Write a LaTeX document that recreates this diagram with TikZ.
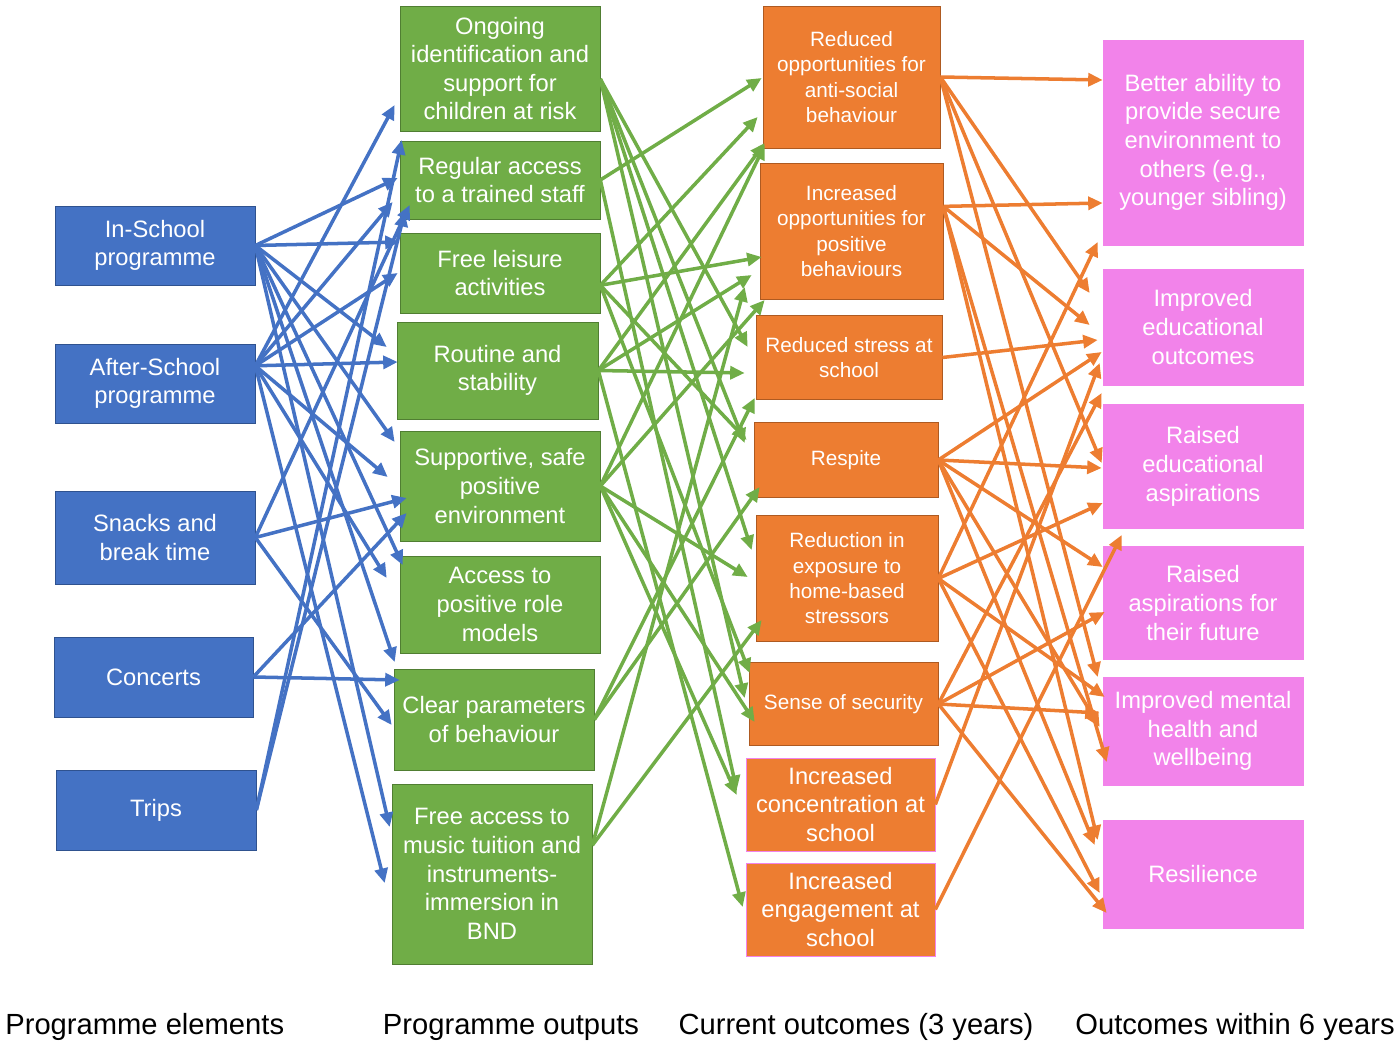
\documentclass[tikz,border=0pt]{standalone}
\usepackage{fontspec}
\setmainfont{Liberation Sans}
\usepackage{tikz}
\usepackage{xcolor}
\usetikzlibrary{arrows.meta,calc}
\definecolor{ElemBlue}{HTML}{4472C4}
\definecolor{ElemEdge}{HTML}{2F528F}
\definecolor{OutGreen}{HTML}{70AD47}
\definecolor{OutEdge}{HTML}{507E32}
\definecolor{CurOrange}{HTML}{ED7D31}
\definecolor{CurEdge}{HTML}{AE5A21}
\definecolor{FutPink}{HTML}{F283EA}

\begin{document}
\begin{tikzpicture}[
  x=0.02cm,y=-0.02cm,
  elem/.style={draw=ElemEdge,fill=ElemBlue,text=white,minimum width=4cm,inner sep=0pt,align=center,font=\fontsize{13.5}{16.3}\selectfont},
  outp/.style={draw=OutEdge,fill=OutGreen,text=white,minimum width=4cm,inner sep=0pt,align=center,font=\fontsize{13.5}{16.3}\selectfont},
  curr/.style={draw=CurEdge,fill=CurOrange,text=white,inner sep=0pt,align=center,font=\fontsize{11.8}{14.4}\selectfont},
  fut/.style={draw=FutPink,fill=FutPink,text=white,minimum width=4cm,inner sep=0pt,align=center,font=\fontsize{13.5}{16.3}\selectfont},
  lbl/.style={inner sep=0pt,font=\fontsize{16.6}{20}\selectfont},
  barrow/.style={-{Triangle[length=2.9mm,width=2.6mm]},line width=2pt,draw=ElemBlue},
  garrow/.style={-{Triangle[length=2.9mm,width=2.6mm]},line width=2pt,draw=OutGreen},
  oarrow/.style={-{Triangle[length=2.9mm,width=2.6mm]},line width=2pt,draw=CurOrange}
]
\useasboundingbox (0,0) rectangle (1399,1044);
% programme elements
\node[elem,minimum height=1.58cm] (IS) at (155,245.5) {In-School\\programme};
\node[elem,minimum height=1.58cm] (AS) at (155,383.5) {After-School\\programme};
\node[elem,minimum height=1.86cm] (SN) at (155,537.5) {Snacks and\\break time};
\node[elem,minimum height=1.6cm,minimum width=3.98cm] (CO) at (153.5,677) {Concerts};
\node[elem,minimum height=1.6cm] (TR) at (156,810) {Trips};
% programme outputs
\node[outp,minimum height=2.5cm] (O1) at (500,68.5) {Ongoing\\identification and\\support for\\children at risk};
\node[outp,minimum height=1.56cm] (O2) at (500,180) {Regular access\\to a trained staff};
\node[outp,minimum height=1.6cm] (O3) at (500,273) {Free leisure\\activities};
\node[outp,minimum height=1.94cm,minimum width=4.02cm] (O4) at (497.5,370.5) {Routine and\\stability};
\node[outp,minimum height=2.2cm] (O5) at (500,486) {Supportive, safe\\positive\\environment};
\node[outp,minimum height=1.94cm] (O6) at (500,604.5) {Access to\\positive role\\models};
\node[outp,minimum height=2.02cm] (O7) at (494,719.5) {Clear parameters\\of behaviour};
\node[outp,minimum height=3.6cm] (O8) at (492,874) {Free access to\\music tuition and\\instruments-\\immersion in\\BND};
% current outcomes
\node[curr,minimum width=3.54cm,minimum height=2.84cm] (C1) at (851.5,77) {Reduced\\opportunities for\\anti-social\\behaviour};
\node[curr,minimum width=3.66cm,minimum height=2.72cm] (C2) at (851.5,231) {Increased\\opportunities for\\positive\\behaviours};
\node[curr,minimum width=3.72cm,minimum height=1.68cm] (C3) at (849,357.5) {Reduced stress at\\school};
\node[curr,minimum width=3.68cm,minimum height=1.5cm] (C4) at (846,460) {Respite};
\node[curr,minimum width=3.64cm,minimum height=2.52cm] (C5) at (847,578.5) {Reduction in\\exposure to\\home-based\\stressors};
\node[curr,minimum width=3.78cm,minimum height=1.66cm] (C6) at (843.5,704) {Sense of security};
\node[curr,draw=FutPink,minimum width=3.78cm,minimum height=1.86cm,font=\fontsize{13.5}{16.3}\selectfont] (C7) at (840.5,804.5) {Increased\\concentration at\\school};
\node[curr,draw=FutPink,minimum width=3.78cm,minimum height=1.86cm,font=\fontsize{13.5}{16.3}\selectfont] (C8) at (840.5,909.5) {Increased\\engagement at\\school};
% outcomes within 6 years
\node[fut,minimum height=4.1cm] (P1) at (1203,142.5) {Better ability to\\provide secure\\environment to\\others (e.g.,\\younger sibling)};
\node[fut,minimum height=2.32cm] (P2) at (1203,327) {Improved\\educational\\outcomes};
\node[fut,minimum height=2.48cm] (P3) at (1203,466.5) {Raised\\educational\\aspirations};
\node[fut,minimum height=2.26cm] (P4) at (1203,603) {Raised\\aspirations for\\their future};
\node[fut,minimum height=2.16cm] (P5) at (1203,731) {Improved mental\\health and\\wellbeing};
\node[fut,minimum height=2.16cm] (P6) at (1203,874) {Resilience};
% column titles
\node[lbl,anchor=west] (L1) at (5,1027) {Programme elements};
\node[lbl] (L2) at (511,1027) {Programme outputs};
\node[lbl] (L3) at (856,1027) {Current outcomes (3 years)};
\node[lbl] (L4) at (1235,1027) {Outcomes within 6 years};
% elements -> outputs
\draw[barrow] (IS.east) -- ($(O2.west)+(-2,-2)$);
\draw[barrow] (IS.east) -- ($(O3.west)+(0,-31)$);
\draw[barrow] (IS.east) -- ($(O4.west)+(-10,-23.5)$);
\draw[barrow] (IS.east) -- ($(O5.west)+(-5,-44)$);
\draw[barrow] (IS.east) -- ($(O6.west)+(3,-39.5)$);
\draw[barrow] (IS.east) -- ($(O7.west)+(1,-57.5)$);
\draw[barrow] (IS.east) -- ($(O8.west)+(-2,-47)$);
\draw[barrow] (AS.10) -- ($(O1.west)+(-5,36.5)$);
\draw[barrow] (AS.10) -- ($(O2.west)+(-7,22)$);
\draw[barrow] (AS.10) -- ($(O3.west)+(-2,0)$);
\draw[barrow] (AS.10) -- ($(O4.west)+(1,-8.5)$);
\draw[barrow] (AS.10) -- ($(O5.west)+(-12,-9)$);
\draw[barrow] (AS.10) -- ($(O6.west)+(-13,-26.5)$);
\draw[barrow] (AS.10) -- ($(O8.west)+(-7,9)$);
\draw[barrow] (SN.east) -- ($(O2.west)+(10,25)$);
\draw[barrow] (SN.east) -- ($(O5.west)+(7,12)$);
\draw[barrow] (SN.east) -- ($(O7.west)+(-2,5.5)$);
\draw[barrow] (CO.east) -- ($(O5.west)+(7,27)$);
\draw[barrow] (CO.east) -- ($(O7.west)+(6,-39.5)$);
\draw[barrow] (TR.east) -- ($(O1.west)+(2,71.5)$);
\draw[barrow] (TR.east) -- ($(O2.west)+(5,32)$);
% outputs -> current outcomes
\draw[garrow] (O1.-6) -- ($(C3.west)+(-8,-10.5)$);
\draw[garrow] (O1.-6) -- ($(C4.west)+(-9,-17)$);
\draw[garrow] (O1.-6) -- ($(C5.west)+(-4,-28.5)$);
\draw[garrow] (O1.-6) -- ($(C6.west)+(-4,-6)$);
\draw[garrow] (O2.east) -- ($(C1.west)+(-1,1)$);
\draw[garrow] (O2.east) -- ($(C7.west)+(-9,-14.5)$);
\draw[garrow] (O3.-7) -- ($(C1.west)+(-5,40)$);
\draw[garrow] (O3.-7) -- ($(C2.west)+(2,26)$);
\draw[garrow] (O3.-7) -- ($(C4.west)+(-7,-20)$);
\draw[garrow] (O3.-7) -- ($(C6.west)+(1,-31)$);
\draw[garrow] (O4.east) -- ($(C1.west)+(2,66)$);
\draw[garrow] (O4.east) -- ($(C2.west)+(-8,44)$);
\draw[garrow] (O4.east) -- ($(C3.west)+(-11,15.5)$);
\draw[garrow] (O4.east) -- ($(C8.west)+(-3,-2.5)$);
\draw[garrow] (O5.east) -- ($(C1.west)+(2,68)$);
\draw[garrow] (O5.east) -- ($(C2.west)+(5,69)$);
\draw[garrow] (O5.east) -- ($(C5.west)+(-8,-1.5)$);
\draw[garrow] (O5.east) -- ($(C6.west)+(6,18)$);
\draw[garrow] (O5.east) -- ($(C7.west)+(-9,-9.5)$);
\draw[garrow] (O7.east) -- ($(C3.west)+(-1,40.5)$);
\draw[garrow] (O7.east) -- ($(C4.west)+(6,27)$);
\draw[garrow] (O8.16) -- ($(C2.west)+(-15,56)$);
\draw[garrow] (O8.16) -- ($(C5.west)+(6,41.5)$);
% current outcomes -> outcomes within 6 years
\draw[oarrow] (C1.east) -- ($(P1.west)+(0,-62.5)$);
\draw[oarrow] (C1.east) -- ($(P2.west)+(-13,-34)$);
\draw[oarrow] (C1.east) -- ($(P3.west)+(-1,-3.5)$);
\draw[oarrow] (C1.east) -- ($(P5.west)+(-5,-54)$);
\draw[oarrow] (C2.15) -- ($(P1.west)+(0,60.5)$);
\draw[oarrow] (C2.15) -- ($(P2.west)+(-13,-2)$);
\draw[oarrow] (C2.15) -- ($(P5.west)+(4,31)$);
\draw[oarrow] (C2.15) -- ($(P6.west)+(-5,-34)$);
\draw[oarrow] (C3.east) -- ($(P2.west)+(-5,13)$);
\draw[oarrow] (C4.east) -- ($(P2.west)+(-1,25)$);
\draw[oarrow] (C4.east) -- ($(P3.west)+(-1,1.5)$);
\draw[oarrow] (C4.east) -- ($(P4.west)+(0,-36)$);
\draw[oarrow] (C4.east) -- ($(P5.west)+(-3,-4)$);
\draw[oarrow] (C4.east) -- ($(P6.west)+(-8,-29)$);
\draw[oarrow] (C5.east) -- ($(P2.west)+(-5,-85)$);
\draw[oarrow] (C5.east) -- ($(P3.west)+(0,36.5)$);
\draw[oarrow] (C5.east) -- ($(P5.west)+(2,-34)$);
\draw[oarrow] (C5.east) -- ($(P6.west)+(-3,19)$);
\draw[oarrow] (C6.east) -- ($(P3.west)+(-1,-73.5)$);
\draw[oarrow] (C6.east) -- ($(P4.west)+(2,9)$);
\draw[oarrow] (C6.east) -- ($(P5.west)+(-3,-18)$);
\draw[oarrow] (C6.east) -- ($(P6.west)+(4,39)$);
\draw[oarrow] (C7.east) -- ($(P2.west)+(-3,36)$);
\draw[oarrow] (C8.east) -- ($(P4.west)+(19,-68)$);
\end{tikzpicture}
\end{document}
